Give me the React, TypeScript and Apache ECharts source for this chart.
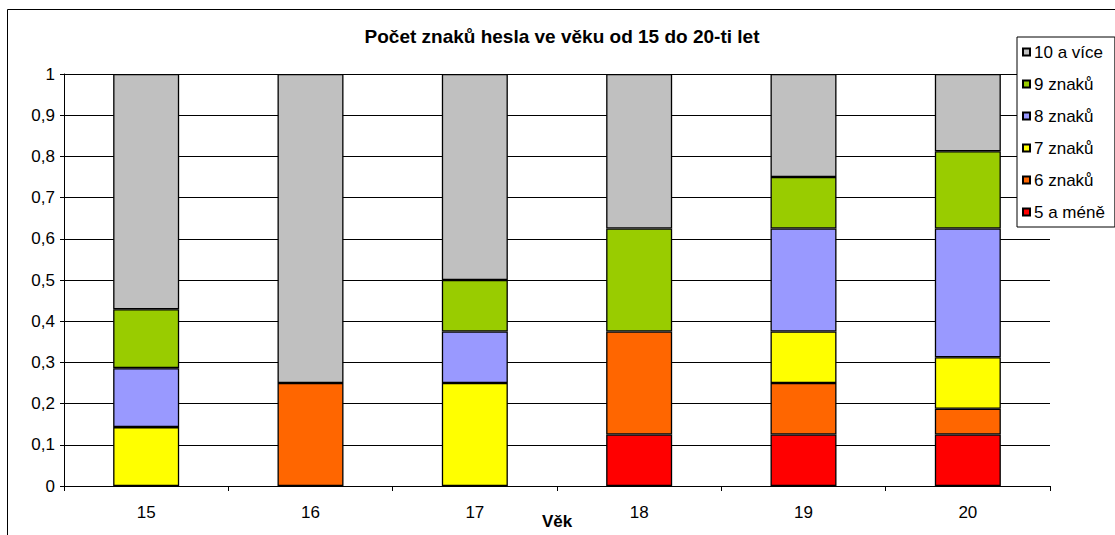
import React, { useEffect, useRef } from "react";
import * as echarts from "echarts";

const categories = ["15", "16", "17", "18", "19", "20"];
const seriesNames = ["5 a méně", "6 znaků", "7 znaků", "8 znaků", "9 znaků", "10 a více"];
const s5 = [0, 0, 0, 0.125, 0.125, 0.125];
const s6 = [0, 0.25, 0, 0.25, 0.125, 0.0625];
const s7 = [0.143, 0, 0.25, 0, 0.125, 0.125];
const s8 = [0.143, 0, 0.125, 0, 0.25, 0.3125];
const s9 = [0.143, 0, 0.125, 0.25, 0.125, 0.1875];
const s10 = [0.571, 0.75, 0.5, 0.375, 0.25, 0.1875];
const colors = ["#ff0000", "#ff6600", "#ffff00", "#9999ff", "#99cc00", "#c0c0c0"];
const yTicks = { min: 0, max: 1, interval: 0.1 };

const FONT = "Liberation Sans";

export default function App() {
  const ref = useRef<HTMLDivElement>(null);
  useEffect(() => {
    document.body.style.margin = "0";
    const chart = echarts.init(ref.current!, null, { renderer: "svg" });
    const all = [s5, s6, s7, s8, s9, s10];
    chart.setOption({
      animation: false,
      textStyle: { fontFamily: FONT },
      title: {
        text: "Počet znaků hesla ve věku od 15 do 20-ti let",
        left: 557,
        textAlign: "center",
        top: 22,
        textStyle: { fontSize: 19, fontWeight: "bold", color: "#000", fontFamily: FONT },
      },
      graphic: [
        {
          type: "rect",
          shape: { x: 7.5, y: 9.5, width: 1300, height: 800 },
          style: { fill: "none", stroke: "#000", lineWidth: 1 },
          silent: true,
        },
      ],
      legend: {
        orient: "vertical",
        left: 1017,
        top: 37,
        data: [...seriesNames].reverse(),
        icon: "rect",
        itemWidth: 7,
        itemHeight: 7,
        itemGap: 14,
        padding: [6, 10, 6, 5],
        borderColor: "#000",
        borderWidth: 1,
        backgroundColor: "#fff",
        textStyle: { fontSize: 17, color: "#000", lineHeight: 18, padding: [0, 0, 0, -1], fontFamily: FONT },
      },
      grid: { left: 64, right: 65, top: 74, bottom: 49, outerBoundsMode: "none", containLabel: false },
      xAxis: {
        type: "category",
        data: categories,
        name: "Věk",
        nameLocation: "middle",
        nameGap: 27,
        nameMoveOverlap: false,
        nameTextStyle: { fontSize: 17, fontWeight: "bold", color: "#000", fontFamily: FONT },
        axisLine: { lineStyle: { color: "#000", width: 1 } },
        axisTick: { show: true, interval: 0, length: 5, lineStyle: { color: "#000" } },
        axisLabel: { fontSize: 17, color: "#000", margin: 18, fontFamily: FONT },
      },
      yAxis: {
        type: "value",
        min: yTicks.min,
        max: yTicks.max,
        interval: yTicks.interval,
        axisLine: { show: true, lineStyle: { color: "#000", width: 1 } },
        axisTick: { show: true, length: 4, lineStyle: { color: "#000" } },
        axisLabel: {
          fontSize: 17,
          color: "#000",
          margin: 9,
          fontFamily: FONT,
          formatter: (v: number) => String(Math.round(v * 10) / 10).replace(".", ","),
        },
        splitLine: { lineStyle: { color: "#000", width: 1 } },
      },
      series: seriesNames.map((name, i) => ({
        name,
        type: "bar",
        stack: "total",
        barWidth: 66,
        data: all[i].map((v) => (v === 0 ? "-" : v)),
        itemStyle: { color: colors[i], borderColor: "#000", borderWidth: 1.3 },
      })),
    });
    return () => chart.dispose();
  }, []);
  return <div ref={ref} style={{ width: 1115, height: 535 }} />;
}
